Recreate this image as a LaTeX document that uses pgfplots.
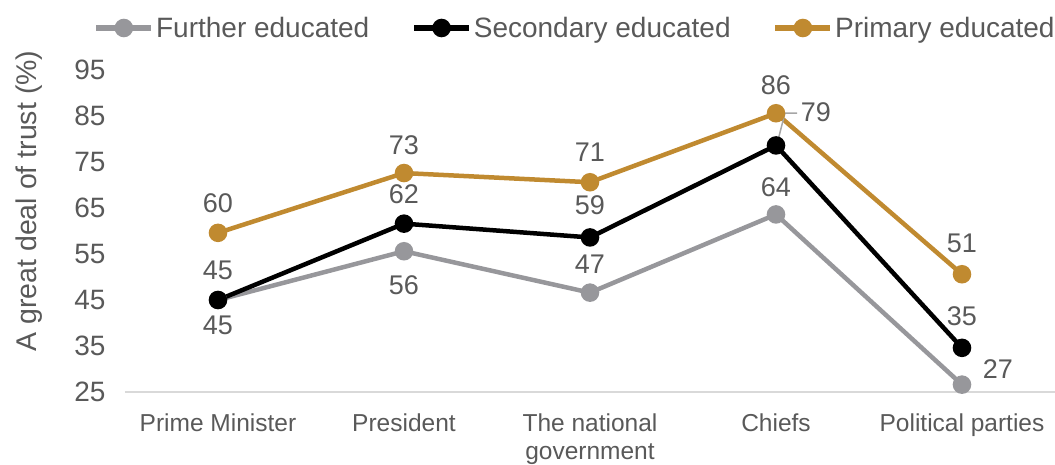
\documentclass[border=0pt]{standalone}
\usepackage{pgfplots}
\pgfplotsset{compat=1.18}
\usepackage{pgfplotstable}
\usepackage{fontspec}
\setmainfont{Liberation Sans}
\definecolor{txt}{HTML}{595959}
\definecolor{furt}{HTML}{97979B}
\definecolor{prim}{HTML}{C08A30}
\definecolor{axl}{HTML}{D9D9D9}
\definecolor{lead}{HTML}{A6A6A6}

\pgfplotstableread{
x y lab dx dy
0 45.0 45 0 -25
1 55.6 56 0 -34
2 46.6 47 0 28
3 63.6 64 0 27
4 26.6 27 36 16
}\further
\pgfplotstableread{
x y lab dx dy
0 45.0 45 0 30
1 61.6 62 0 29
2 58.6 59 0 32
3 78.6 79 40 33
4 34.6 35 0 32
}\secondary
\pgfplotstableread{
x y lab dx dy
0 59.6 60 0 30
1 72.6 73 0 28
2 70.6 71 0 30
3 85.6 86 0 28
4 50.6 51 0 31
}\primary

\begin{document}
\begin{tikzpicture}
\begin{axis}[
  at={(0pt,0pt)}, anchor=south west,
  scale only axis, width=930pt, height=322pt,
  xmin=-0.5, xmax=4.5, ymin=25, ymax=95,
  ytick={25,35,...,95},
  xtick={0,...,4},
  xticklabels={Prime Minister, President, {The national\\government}, Chiefs, Political parties},
  xticklabel style={align=center, font=\fontsize{24.5}{28}\selectfont, text=txt, yshift=-18pt},
  yticklabel style={font=\fontsize{28}{30}\selectfont, text=txt, xshift=-16pt},
  /pgf/number format/assume math mode=true,
  major tick length=0pt,
  axis x line*=bottom, axis y line*=left,
  separate axis lines,
  x axis line style={draw=axl, line width=2pt, -},
  y axis line style={draw=none},
  ylabel={A great deal of trust (\%)},
  ylabel style={font=\fontsize{28.5}{30}\selectfont, text=txt, at={(ticklabel cs:0.593,25pt)}, anchor=south},
  clip=false,
  legend style={at={(0.484,1)}, anchor=center, yshift=42pt, draw=none, fill=none,
    font=\fontsize{28}{30}\selectfont, text=txt,
    nodes={inner sep=2pt},
    /tikz/every even column/.append style={column sep=40pt}},
  legend columns=3,
  legend cell align=left,
  legend image code/.code={%
    \draw[#1, mark=none, line width=5.5pt] (0pt,0pt) -- (55pt,0pt);
    \fill[#1] (27.5pt,0pt) circle (7pt);},
]
\pgfplotsset{
  lbl/.style={
    nodes near coords,
    point meta=explicit symbolic,
    visualization depends on={\thisrow{dx}\as\mydx},
    visualization depends on={\thisrow{dy}\as\mydy},
    every node near coord/.append style={anchor=center, xshift=\mydx pt, yshift=\mydy pt,
      font=\fontsize{27}{30}\selectfont, text=txt},
  }
}
\addplot[furt, line width=4.5pt, mark=*, mark size=7pt, mark options={solid}, lbl] table[x=x, y=y, meta=lab] {\further};
\addlegendentry{Further educated}
\addplot[black, line width=4.5pt, mark=*, mark size=7pt, mark options={solid}, lbl] table[x=x, y=y, meta=lab] {\secondary};
\addlegendentry{Secondary educated}
\addplot[prim, line width=4.5pt, mark=*, mark size=7pt, mark options={solid}, lbl] table[x=x, y=y, meta=lab] {\primary};
\addlegendentry{Primary educated}
\draw[lead, line width=1.5pt] (axis cs:3.009,79.4) -- (axis cs:3.048,85.65) -- (axis cs:3.113,85.65);
\end{axis}
\pgfresetboundingbox
\path[use as bounding box] (-125pt,-72pt) rectangle (930pt,392pt);
\end{tikzpicture}
\end{document}
